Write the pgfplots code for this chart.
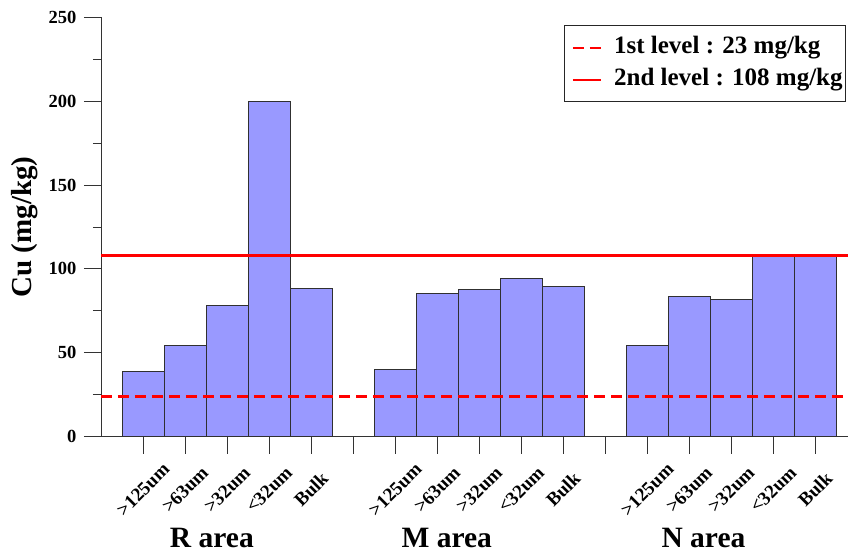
\documentclass[border=0pt]{standalone}
\usepackage{fontspec}
\setmainfont{Liberation Serif}
\usepackage{pgfplots}
\pgfplotsset{compat=1.18}
\definecolor{barfill}{HTML}{9999FF}
\definecolor{baredge}{HTML}{303030}
\definecolor{lvlred}{HTML}{FF0000}
\begin{document}
\begin{tikzpicture}
\useasboundingbox (-101bp,-114.5bp) rectangle (748bp,436.5bp);
\begin{axis}[
  at={(0,0)}, anchor=south west,
  scale only axis, width=747bp, height=419bp,
  xmin=-1, xmax=16.78, ymin=0, ymax=250,
  clip=false,
  axis x line=bottom, axis y line=left,
  axis line style={-, line width=0.8bp, black!80},
  tick align=outside, major tick length=17bp, minor tick length=8bp,
  every tick/.style={black!80, line width=0.8bp},
  ytick={0,50,100,150,200,250}, minor ytick={25,75,125,175,225},
  xtick={0,...,16},
  xticklabels={>125um,>63um,>32um,<32um,Bulk,,>125um,>63um,>32um,<32um,Bulk,,>125um,>63um,>32um,<32um,Bulk},
  xticklabel style={font=\bfseries\fontsize{19bp}{19bp}\selectfont, anchor=center, yshift=-36bp, rotate=45},
  yticklabel style={font=\bfseries\fontsize{18.5bp}{19bp}\selectfont, xshift=-4bp},
  /pgf/number format/assume math mode=true,
  ylabel={Cu (mg/kg)},
  ylabel style={font=\bfseries\fontsize{29bp}{30bp}\selectfont, at={(axis description cs:-0.1017,0.5)}, anchor=center},
  legend cell align=left,
  legend image code/.code={\path (0bp,0bp); \draw[#1] (4bp,0bp) -- (32bp,0bp);},
  legend style={at={(1,1)}, anchor=north east, xshift=-2bp, yshift=-8bp,
    draw=black!85, line width=0.8bp,
    font=\bfseries\fontsize{25bp}{28bp}\selectfont,
    inner xsep=3bp, inner ysep=7bp, row sep=2bp, column sep=12bp,
    nodes={inner xsep=0bp, inner ysep=3bp, text height=18bp, text depth=6bp}},
]
\addplot[ybar, bar width=1, fill=barfill, draw=baredge, line width=1bp, forget plot]
  coordinates {
  (0,39) (1,54) (2,78) (3,200) (4,88.5)
  (6,40) (7,85.5) (8,87.5) (9,94.5) (10,89.5)
  (12,54) (13,83.5) (14,82) (15,107.5) (16,108.5)};
\addplot[draw=lvlred, line width=2.5bp, dash pattern=on 11bp off 6bp] coordinates {(-1,24) (16.78,24)};
\addlegendentry{1st level : 23 mg/kg}
\addplot[color=lvlred, line width=2.2bp, solid] coordinates {(-1,108) (16.78,108)};
\addlegendentry{2nd level : 108 mg/kg}
\node[font=\bfseries\fontsize{29.5bp}{30bp}\selectfont, anchor=center, yshift=-101.5bp] at (axis cs:1.64,0) {R area};
\node[font=\bfseries\fontsize{29.5bp}{30bp}\selectfont, anchor=center, yshift=-101.5bp] at (axis cs:7.23,0) {M area};
\node[font=\bfseries\fontsize{29.5bp}{30bp}\selectfont, anchor=center, yshift=-101.5bp] at (axis cs:13.34,0) {N area};
\end{axis}
\end{tikzpicture}
\end{document}
